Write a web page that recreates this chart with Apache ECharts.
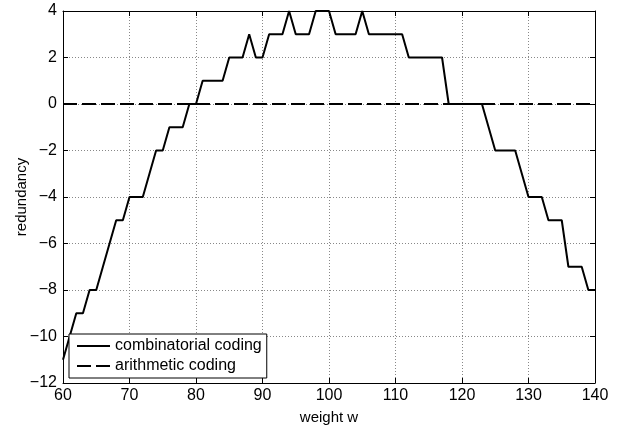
<!DOCTYPE html>
<html>
<head>
<meta charset="utf-8">
<script src="https://cdn.jsdelivr.net/npm/echarts@6/dist/echarts.min.js"></script>
<style>
  html, body { margin: 0; padding: 0; background: #fff; }
  #chart { width: 617px; height: 430px; }
</style>
</head>
<body>
<div id="chart"></div>
<script>
// weight w (x values)
var weights = [60, 61, 62, 63, 64, 65, 66, 67, 68, 69,
  70, 71, 72, 73, 74, 75, 76, 77, 78, 79,
  80, 81, 82, 83, 84, 85, 86, 87, 88, 89,
  90, 91, 92, 93, 94, 95, 96, 97, 98, 99,
  100, 101, 102, 103, 104, 105, 106, 107, 108, 109,
  110, 111, 112, 113, 114, 115, 116, 117, 118, 119,
  120, 121, 122, 123, 124, 125, 126, 127, 128, 129,
  130, 131, 132, 133, 134, 135, 136, 137, 138, 139, 140];

// redundancy of combinatorial coding
var combinatorial = [-11, -10, -9, -9, -8, -8, -7, -6, -5, -5,
  -4, -4, -4, -3, -2, -2, -1, -1, -1, 0,
  0, 1, 1, 1, 1, 2, 2, 2, 3, 2,
  2, 3, 3, 3, 4, 3, 3, 3, 4, 4,
  4, 3, 3, 3, 3, 4, 3, 3, 3, 3,
  3, 3, 2, 2, 2, 2, 2, 2, 0, 0,
  0, 0, 0, 0, -1, -2, -2, -2, -2, -3,
  -4, -4, -4, -5, -5, -5, -7, -7, -7, -8, -8];

// arithmetic coding: flat at zero
var arithW = [60, 140];
var arithmetic = [0, 0];

var xTicks = [60, 140, 10];
var yTicks = [-12, 4, 2];

var FONT = "'Liberation Sans', Arial, Helvetica, sans-serif";

function pairs(xs, ys) {
  return xs.map(function (x, i) { return [x, ys[i]]; });
}
function minus(v) {
  return String(v).replace('-', '\u2212');
}

var chart = echarts.init(document.getElementById('chart'), null, { renderer: 'canvas' });

var gridLine = { show: true, lineStyle: { color: '#888', type: [1, 2], width: 1 } };
var axisLine = { show: true, onZero: false, lineStyle: { color: '#000', width: 1 } };
var tick = { show: true, inside: true, length: 5, lineStyle: { color: '#000' } };

var option = {
  animation: false,
  backgroundColor: '#fff',
  grid: { left: 63, right: 22, top: 11, bottom: 47, containLabel: false, outerBoundsMode: 'none' },
  textStyle: { fontFamily: FONT },
  xAxis: [
    {
      type: 'value', min: xTicks[0], max: xTicks[1], interval: xTicks[2],
      position: 'bottom',
      name: 'weight w', nameLocation: 'middle', nameGap: 27,
      nameTextStyle: { color: '#000', fontSize: 15, fontFamily: FONT },
      axisLine: axisLine, axisTick: tick,
      axisLabel: { color: '#000', fontSize: 16, fontFamily: FONT, margin: 5 },
      splitLine: gridLine
    },
    {
      type: 'value', min: xTicks[0], max: xTicks[1], interval: xTicks[2],
      position: 'top',
      axisLine: axisLine, axisTick: tick,
      axisLabel: { show: false }, splitLine: { show: false }
    }
  ],
  yAxis: [
    {
      type: 'value', min: yTicks[0], max: yTicks[1], interval: yTicks[2],
      position: 'left',
      name: 'redundancy', nameLocation: 'middle', nameGap: 34,
      nameMoveOverlap: false,
      nameTextStyle: { color: '#000', fontSize: 15, fontFamily: FONT },
      axisLine: axisLine, axisTick: tick,
      axisLabel: { color: '#000', fontSize: 16, fontFamily: FONT, margin: 6, formatter: minus },
      splitLine: gridLine
    },
    {
      type: 'value', min: yTicks[0], max: yTicks[1], interval: yTicks[2],
      position: 'right',
      axisLine: axisLine, axisTick: tick,
      axisLabel: { show: false }, splitLine: { show: false }
    }
  ],
  legend: {
    left: 69, top: 334,
    orient: 'vertical',
    itemWidth: 33, itemHeight: 14, itemGap: 4,
    padding: [4, 5, 4, 7],
    backgroundColor: '#fff',
    borderColor: '#000', borderWidth: 1, borderRadius: 0,
    itemStyle: { opacity: 0 },
    textStyle: { color: '#000', fontSize: 16, fontFamily: FONT },
    data: ['combinatorial coding', 'arithmetic coding']
  },
  series: [
    {
      name: 'combinatorial coding', type: 'line',
      xAxisIndex: 0, yAxisIndex: 0,
      data: pairs(weights, combinatorial),
      symbol: 'none', showSymbol: false,
      lineStyle: { color: '#000', width: 2 },
      itemStyle: { color: '#000' },
      z: 3
    },
    {
      name: 'arithmetic coding', type: 'line',
      xAxisIndex: 0, yAxisIndex: 0,
      data: pairs(arithW, arithmetic),
      symbol: 'none', showSymbol: false,
      lineStyle: { color: '#000', width: 2, type: [14, 5] },
      itemStyle: { color: '#000' },
      z: 3
    }
  ]
};

chart.setOption(option);
</script>
</body>
</html>
